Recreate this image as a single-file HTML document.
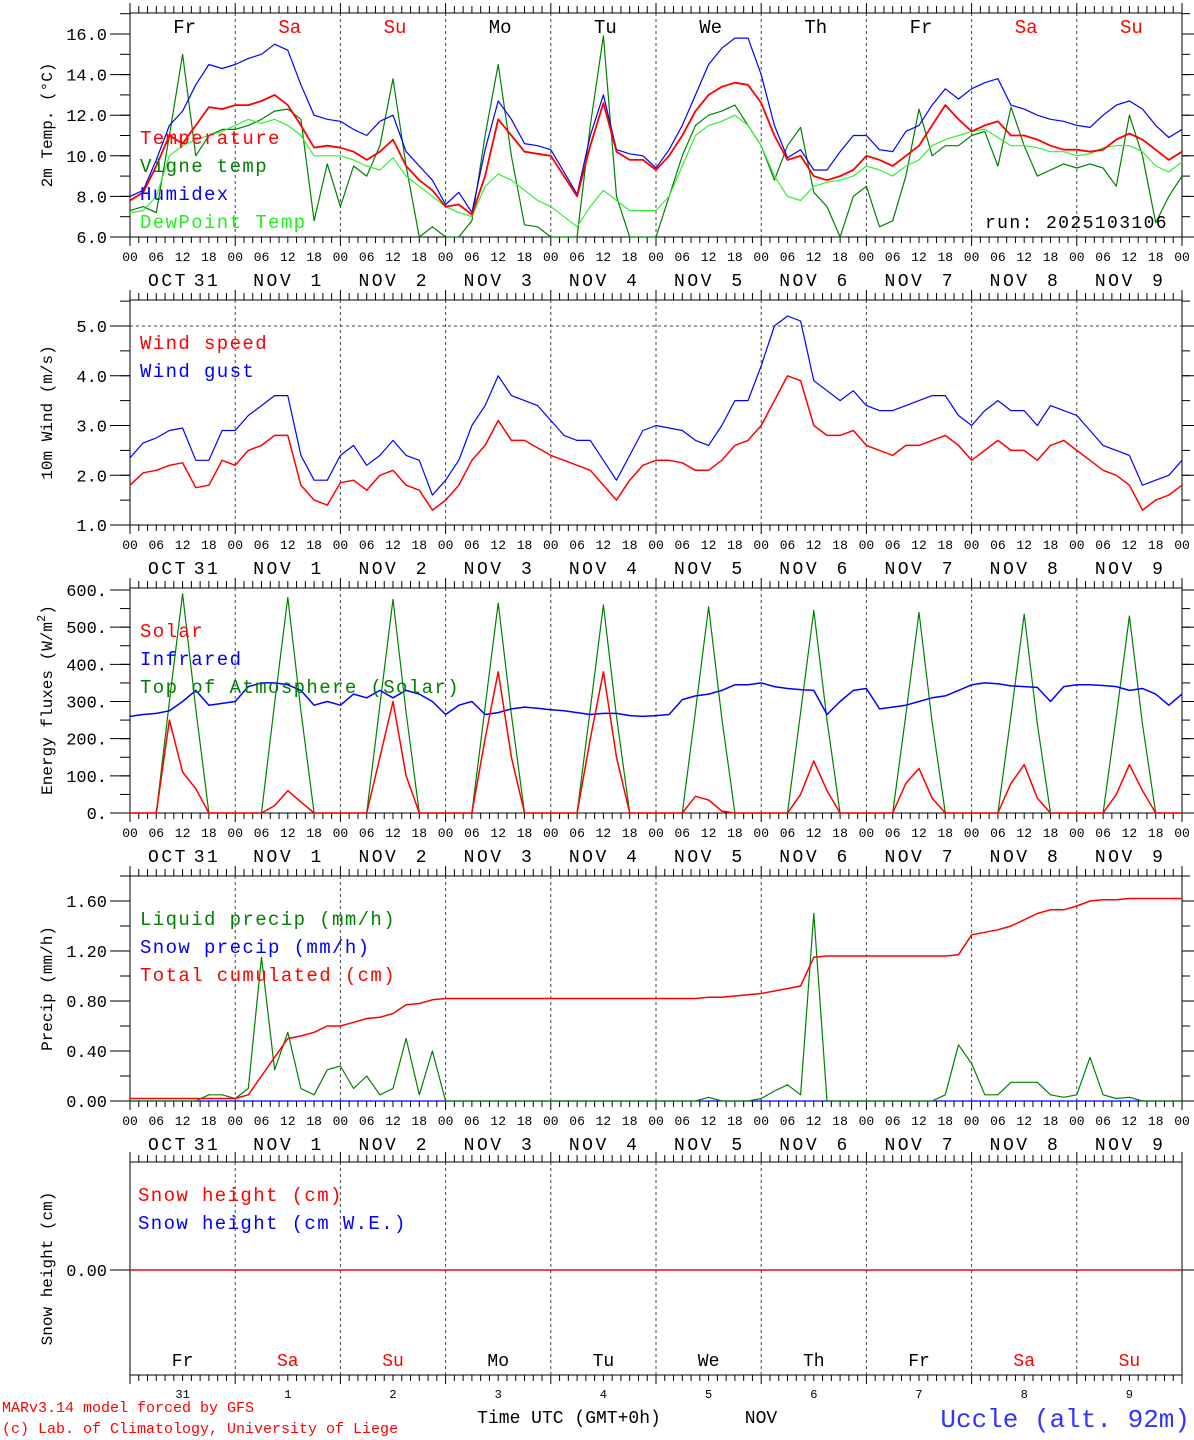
<!DOCTYPE html>
<html><head><meta charset="utf-8">
<style>
html,body{margin:0;padding:0;background:#fff;}
svg{display:block;font-family:"Liberation Mono","DejaVu Sans Mono",monospace;}
.leg{letter-spacing:1.4px;}
.dl{letter-spacing:2.5px;}
</style></head>
<body>
<svg id="chart" width="1194" height="1440" viewBox="0 0 1194 1440" xmlns="http://www.w3.org/2000/svg">
<rect x="0" y="0" width="1194" height="1440" fill="#fff"/>
</svg>
<script>
// ---------------- data (3-hourly, 81 points from Oct 31 00 UTC) ----------------
const dayNames = ["Fr","Sa","Su","Mo","Tu","We","Th","Fr","Sa","Su"];
const dayNums = ["31","1","2","3","4","5","6","7","8","9"];
const dateLabels = ["OCT","NOV","NOV","NOV","NOV","NOV","NOV","NOV","NOV","NOV"];
const hourTicks = ["00","06","12","18"];
const tempTicks = [6,8,10,12,14,16];
const windTicks = [1,2,3,4,5];
const fluxTicks = [0,100,200,300,400,500,600];
const precipTicks = [0,0.4,0.8,1.2,1.6];
const snowTicks = [0];

const temperature = [7.8,8.2,9.5,11,10.6,11.5,12.4,12.3, 12.5,12.5,12.7,13.0,12.5,11.5,10.4,10.5, 10.4,10.2,9.8,10.2,10.8,9.5,8.8,8.3, 7.5,7.6,7.1,9,11.8,11,10.2,10.1, 10.0,9,8.0,10.5,12.6,10.2,9.8,9.8, 9.3,10,11,12.2,13.0,13.4,13.6,13.5, 12.6,11,9.8,10,9.0,8.8,9.0,9.3, 10.0,9.8,9.5,10.0,10.5,11.5,12.5,11.8, 11.2,11.5,11.7,11.0,11.0,10.8,10.5,10.3, 10.3,10.2,10.3,10.8,11.1,10.8,10.3,9.8,10.2];
const humidex = [8.0,8.3,9.8,11.5,12.2,13.5,14.5,14.3, 14.5,14.8,15.0,15.5,15.2,13.5,12,11.8, 11.7,11.3,11.0,11.7,12.0,10.2,9.5,8.8, 7.6,8.2,7.2,10.3,12.7,11.8,10.6,10.5, 10.3,9.2,8.1,11.0,13.0,10.3,10.1,10.0, 9.4,10.3,11.5,13.0,14.5,15.3,15.8,15.8, 14,11.5,9.9,10.3,9.3,9.3,10.2,11.0, 11.0,10.3,10.2,11.2,11.5,12.5,13.3,12.8, 13.3,13.6,13.8,12.5,12.3,12.0,11.8,11.7, 11.5,11.4,12.0,12.5,12.7,12.3,11.5,10.9,11.3];
const vigneTemp = [7.3,7.5,7.2,11,15,10.0,11,11.3, 11.3,11.5,11.8,12.2,12.3,11.8,6.8,9.6, 7.5,9.5,9.0,10.5,13.8,9.5,6.0,6.5, 6.0,5.8,6.8,11,14.5,10,6.6,6.5, 5.5,5.8,6.0,11.5,15.9,8.0,6.0,6.0, 5.5,8,10,11.5,12.0,12.2,12.5,11.5, 10.5,8.8,10.5,11.4,8.2,7.5,5.5,8.0, 8.5,6.5,6.8,9,12.3,10,10.5,10.5, 11,11.2,9.5,12.4,10.5,9.0,9.3,9.6, 9.4,9.6,9.4,8.5,12.0,10.0,6.7,8.0,9.0];
const dewPoint = [7.2,7.3,8,10,10.5,10.8,11.0,11.2, 11.5,11.8,11.6,11.8,11.5,11.0,10,10, 10.0,9.8,9.5,9.3,9.9,9.0,8.5,8.0, 7.5,7.2,7.0,8.5,9.1,8.8,8.3,7.8, 7.5,7.0,6.5,7.5,8.3,7.8,7.3,7.3, 7.3,8,9.5,11,11.5,11.7,12.0,11.5, 10.5,9.0,8,7.8,8.5,8.7,8.8,9.0, 9.5,9.3,9.0,9.5,9.8,10.5,10.8,11.0, 11.2,11.3,10.9,10.5,10.5,10.4,10.2,10.2, 10.0,10.1,10.4,10.5,10.5,10.2,9.5,9.2,9.7];
const windSpeed = [1.8,2.05,2.1,2.2,2.25,1.75,1.8,2.3, 2.2,2.5,2.6,2.8,2.8,1.8,1.5,1.4, 1.85,1.9,1.7,2.0,2.1,1.8,1.7,1.3, 1.5,1.8,2.3,2.6,3.1,2.7,2.7,2.55, 2.4,2.3,2.2,2.1,1.8,1.5,1.9,2.2, 2.3,2.3,2.25,2.1,2.1,2.3,2.6,2.7, 3.0,3.5,4.0,3.9,3.0,2.8,2.8,2.9, 2.6,2.5,2.4,2.6,2.6,2.7,2.8,2.6, 2.3,2.5,2.7,2.5,2.5,2.3,2.6,2.7, 2.5,2.3,2.1,2.0,1.8,1.3,1.5,1.6,1.8];
const windGust = [2.35,2.65,2.75,2.9,2.95,2.3,2.3,2.9, 2.9,3.2,3.4,3.6,3.6,2.4,1.9,1.9, 2.4,2.6,2.2,2.4,2.7,2.4,2.3,1.6, 1.9,2.3,3.0,3.4,4.0,3.6,3.5,3.4, 3.1,2.8,2.7,2.7,2.3,1.9,2.4,2.9, 3.0,2.95,2.9,2.7,2.6,3.0,3.5,3.5, 4.2,5.0,5.2,5.1,3.9,3.7,3.5,3.7, 3.4,3.3,3.3,3.4,3.5,3.6,3.6,3.2, 3.0,3.3,3.5,3.3,3.3,3.0,3.4,3.3, 3.2,2.9,2.6,2.5,2.4,1.8,1.9,2.0,2.3];
const solar = [0,0,0,250,110,65,0,0, 0,0,0,20,60,30,0,0, 0,0,0,150,300,100,0,0, 0,0,0,200,380,150,0,0, 0,0,0,200,380,150,0,0, 0,0,0,45,35,5,0,0, 0,0,0,50,140,60,0,0, 0,0,0,80,120,40,0,0, 0,0,0,80,130,40,0,0, 0,0,0,50,130,60,0,0,0];
const infrared = [260,265,268,275,300,330,290,295, 300,340,350,350,345,330,290,300, 290,320,310,330,310,330,320,300, 265,290,300,265,270,280,285,282, 278,275,270,265,268,268,262,260, 262,265,305,315,320,330,345,345, 350,340,335,332,330,265,300,330, 335,280,285,290,300,310,315,330, 345,350,348,342,340,338,300,340, 345,345,343,340,330,335,320,290,320];
const toaSolar = [0,0,0,300,590,280,0,0, 0,0,0,295,580,275,0,0, 0,0,0,290,575,270,0,0, 0,0,0,285,565,265,0,0, 0,0,0,280,560,260,0,0, 0,0,0,275,555,255,0,0, 0,0,0,270,545,250,0,0, 0,0,0,265,540,245,0,0, 0,0,0,262,535,240,0,0, 0,0,0,260,530,238,0,0,0];
const liquidPrecip = [0,0,0,0,0,0,0.05,0.05, 0.02,0.1,1.15,0.25,0.55,0.1,0.05,0.25, 0.28,0.1,0.2,0.05,0.1,0.5,0.05,0.4, 0,0,0,0,0,0,0,0, 0,0,0,0,0,0,0,0, 0,0,0,0,0.03,0,0,0, 0.02,0.08,0.13,0.05,1.5,0,0,0, 0,0,0,0,0,0,0.05,0.45, 0.3,0.05,0.05,0.15,0.15,0.15,0.05,0.03, 0.05,0.35,0.05,0.02,0.03,0,0,0,0];
const totalCumulated = [0.02,0.02,0.02,0.02,0.02,0.02,0.02,0.02, 0.02,0.05,0.2,0.35,0.5,0.52,0.55,0.6, 0.6,0.63,0.66,0.67,0.7,0.77,0.78,0.81, 0.82,0.82,0.82,0.82,0.82,0.82,0.82,0.82, 0.82,0.82,0.82,0.82,0.82,0.82,0.82,0.82, 0.82,0.82,0.82,0.82,0.83,0.83,0.84,0.85, 0.86,0.88,0.9,0.92,1.15,1.16,1.16,1.16, 1.16,1.16,1.16,1.16,1.16,1.16,1.16,1.17, 1.33,1.35,1.37,1.40,1.45,1.5,1.53,1.53, 1.56,1.6,1.61,1.61,1.62,1.62,1.62,1.62,1.62];
const snowPrecip = new Array(81).fill(0);
const snowHeight = new Array(81).fill(0);
const snowHeightWE = new Array(81).fill(0);

// ---------------- drawing ----------------
const NS = "http://www.w3.org/2000/svg";
const svg = document.getElementById("chart");
const X0 = 130, X1 = 1182;
function xOfHour(h){ return X0 + h*(X1-X0)/240; }
function el(tag, attrs, parent){
  const e = document.createElementNS(NS, tag);
  for (const k in attrs) e.setAttribute(k, attrs[k]);
  (parent||svg).appendChild(e);
  return e;
}
function txt(s, x, y, size, fill, anchor, parent){
  const t = el("text", {x:x, y:y, "font-size":size, fill:fill, "text-anchor":anchor||"start"}, parent);
  t.textContent = s;
  return t;
}
function makeY(top, bottom, vmin, vmax){ return v => bottom - (v - vmin)/(vmax - vmin)*(bottom - top); }

function panel(name, top, bottom, vmin, vmax, ticks, fmt, minorStep, yTitle, bottomLabels){
  const g = el("g", {});
  
  
  const y = makeY(top, bottom, vmin, vmax);
  el("line",{x1:X0,y1:top,x2:X1,y2:top,stroke:"#000","stroke-width":1},g);
  el("line",{x1:X0,y1:bottom,x2:X1,y2:bottom,stroke:"#000","stroke-width":1},g);
  el("line",{x1:X0,y1:top,x2:X0,y2:bottom,stroke:"#000","stroke-width":1},g);
  el("line",{x1:X1,y1:top,x2:X1,y2:bottom,stroke:"#000","stroke-width":1},g);
  for (let h=0; h<=240; h+=2){
    const x = xOfHour(h);
    const big = h%24===0;
    el("line",{x1:x,y1:top,x2:x,y2:top-(big?10:7),stroke:"#000","stroke-width":1},g);
    el("line",{x1:x,y1:bottom,x2:x,y2:bottom+(big?9:6),stroke:"#000","stroke-width":1},g);
  }
  for (let d=1; d<10; d++){
    const x = xOfHour(d*24);
    el("line",{x1:x,y1:top,x2:x,y2:bottom,stroke:"#444","stroke-width":1,"stroke-dasharray":"3,3"},g);
  }
  if (minorStep){
    for (let v=vmin; v<=vmax+1e-9; v+=minorStep){
      const yy = y(v);
      if (yy < top-0.5) continue;
      el("line",{x1:X0-10,y1:yy,x2:X0,y2:yy,stroke:"#000","stroke-width":1},g);
      el("line",{x1:X1,y1:yy,x2:X1+8,y2:yy,stroke:"#000","stroke-width":1},g);
    }
  }
  ticks.forEach(v=>{
    const yy = y(v);
    el("line",{x1:X0-20,y1:yy,x2:X0,y2:yy,stroke:"#000","stroke-width":1},g);
    el("line",{x1:X1,y1:yy,x2:X1+12,y2:yy,stroke:"#000","stroke-width":1},g);
    const t = txt(fmt(v), 107, yy+6, 17, "#000", "end", g);
    
    
  });
  if (yTitle){
    const cy = (top+bottom)/2;
    const tt = el("text",{x:0,y:0,"font-size":16,fill:"#000","text-anchor":"middle",transform:`translate(52,${cy}) rotate(-90)`},g);
    tt.textContent = yTitle;
    
    
  }
  if (bottomLabels){
    for (let d=0; d<10; d++){
      hourTicks.forEach((s,i)=>{
        const t = txt(s, xOfHour(d*24+i*6), bottom+24, 13, "#000", "middle", g);
        
        
      });
      const xd = xOfHour(d*24);
      const a = txt(dateLabels[d], xd+38, bottom+49, 18, "#000", "middle", g);
      a.setAttribute('class','dl');
      
      
      const b = txt(dayNums[d], xd+(d===0?77:82), bottom+49, 18, "#000", "middle", g);
      b.setAttribute('class','dl');
      
      
    }
    txt("00", xOfHour(240), bottom+24, 13, "#000", "middle", g);
  }
  return {g, y, top, bottom};
}

function series(p, arr, color, name, width){
  const pts = arr.map((v,i)=>{
    let yy = p.y(v);
    yy = Math.max(p.top, Math.min(p.bottom, yy));
    return xOfHour(i*3).toFixed(1)+","+yy.toFixed(1);
  }).join(" ");
  const e = el("polyline",{points:pts,fill:"none",stroke:color,"stroke-width":width||1.2,"stroke-linejoin":"round"},p.g);
  
  
  return e;
}
function legend(p, items, x, y0){
  items.forEach((it,i)=>{
    const t = txt(it[0], x, y0+i*28, 19, it[1], "start", p.g);
    t.setAttribute('class','leg');
    
    
  });
}

// Panel 1: temperature
const p1 = panel("temperature-panel", 13, 237, 6, 6+224/20.3, tempTicks, v=>v.toFixed(1), 1, "2m Temp. (\u00B0C)", true);
for (let d=0; d<10; d++){
  const red = (dayNames[d]==="Sa"||dayNames[d]==="Su");
  const t = txt(dayNames[d], xOfHour(d*24+12)+2, 33, 19, red?"#ff0000":"#000", "middle", p1.g);
  
  
}
series(p1, vigneTemp, "#008000", "vigne-temp-line", 1.2);
series(p1, dewPoint, "#33ee33", "dewpoint-line", 1.2);
series(p1, humidex, "#0000ff", "humidex-line", 1.2);
series(p1, temperature, "#ff0000", "temperature-line", 1.8);
legend(p1, [["Temperature","#ff0000","legend-temperature"],["Vigne temp","#008000","legend-vigne-temp"],["Humidex","#0000ff","legend-humidex"],["DewPoint Temp","#22ee22","legend-dewpoint"]], 140, 144);
{ const t = txt("run: 2025103106", 1168, 228, 18, "#000", "end", p1.g);
  t.setAttribute('class','leg');
    }

// Panel 2: wind
const p2 = panel("wind-panel", 300, 525, 1, 1+225/49.75, windTicks, v=>v.toFixed(1), 0.5, "10m Wind (m/s)", true);
el("line",{x1:X0,y1:p2.y(5),x2:X1,y2:p2.y(5),stroke:"#444","stroke-width":1,"stroke-dasharray":"3,3"},p2.g);
series(p2, windGust, "#0000ff", "wind-gust-line", 1.2);
series(p2, windSpeed, "#ff0000", "wind-speed-line", 1.5);
legend(p2, [["Wind speed","#ff0000","legend-wind-speed"],["Wind gust","#0000ff","legend-wind-gust"]], 140, 349);

// Panel 3: energy fluxes
const p3 = panel("energy-panel", 588, 813, 0, 225*600/223, fluxTicks, v=>v+".", 50, "", true);
{ const tt = el("text",{x:0,y:0,"font-size":16,fill:"#000","text-anchor":"middle",transform:`translate(52,700) rotate(-90)`},p3.g);
  tt.innerHTML = 'Energy fluxes (W/m<tspan dy="-7" font-size="12">2</tspan><tspan dy="7">)</tspan>';
    }
series(p3, toaSolar, "#008000", "toa-solar-line", 1.2);
series(p3, infrared, "#0000ff", "infrared-line", 1.5);
series(p3, solar, "#ff0000", "solar-line", 1.5);
legend(p3, [["Solar","#ff0000","legend-solar"],["Infrared","#0000ff","legend-infrared"],["Top of Atmosphere (Solar)","#008000","legend-toa"]], 140, 637);

// Panel 4: precip
const p4 = panel("precip-panel", 876, 1101, 0, 1.8, precipTicks, v=>v.toFixed(2), 0.2, "Precip (mm/h)", true);
series(p4, snowPrecip, "#0000ff", "snow-precip-line", 1.2);
series(p4, liquidPrecip, "#008000", "liquid-precip-line", 1.2);
series(p4, totalCumulated, "#ff0000", "total-cumulated-line", 1.5);
legend(p4, [["Liquid precip (mm/h)","#008000","legend-liquid"],["Snow precip (mm/h)","#0000ff","legend-snow-precip"],["Total cumulated (cm)","#ff0000","legend-total"]], 140, 925);

// Panel 5: snow
const p5 = panel("snow-panel", 1162, 1375, -0.972, 1.0, snowTicks, v=>v.toFixed(2), 0, "Snow height (cm)", false);
series(p5, snowHeightWE, "#0000ff", "snow-height-we-line", 1.2);
series(p5, snowHeight, "#ff0000", "snow-height-line", 1.3);
legend(p5, [["Snow height (cm)","#ff0000","legend-snow-height"],["Snow height (cm W.E.)","#0000ff","legend-snow-we"]], 138, 1201);
for (let d=0; d<10; d++){
  const red = (dayNames[d]==="Sa"||dayNames[d]==="Su");
  const t = txt(dayNames[d], xOfHour(d*24+12), 1366, 18, red?"#ff0000":"#000", "middle", p5.g);
  
  
  const n = txt(dayNums[d], xOfHour(d*24+12), 1398, 12, "#000", "middle", p5.g);
  
  
}

// footer
const f1 = txt("MARv3.14 model forced by GFS", 2, 1412, 15, "#ff0000", "start");  
const f2 = txt("(c) Lab. of Climatology, University of Liege", 2, 1433, 15, "#ff0000", "start");  
const f3 = txt("Time UTC (GMT+0h)", 569, 1423, 18, "#000", "middle");  
const f4 = txt("NOV", 761, 1423, 18, "#000", "middle");  
const f5 = txt("Uccle (alt. 92m)", 1190, 1427, 26, "#3333ff", "end");  
</script>
</body></html>
